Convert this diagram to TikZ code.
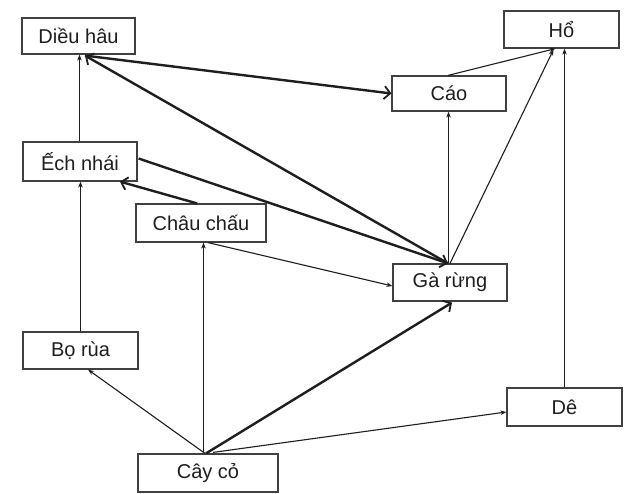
\documentclass[tikz,border=0pt]{standalone}
\usepackage{fontspec}
\setmainfont{Liberation Sans}
\usetikzlibrary{arrows.meta,calc}
\definecolor{ink}{HTML}{1E1E1E}
\begin{document}
\begin{tikzpicture}[x=1pt,y=1pt,
  box/.style={draw=ink!85,line width=1.2pt,rectangle,inner sep=0pt,font=\fontsize{20}{22}\selectfont,text=ink},
  thinarr/.style={draw=ink,line width=1.1pt,-{Stealth[length=6pt,width=4.5pt]}},
  thickarr/.style={draw=ink,line width=2.4pt,-{Straight Barb[length=6pt,width=13pt,line width=1.8pt]}}]
\useasboundingbox[fill=white] (0,0) rectangle (632,-494);
\node[box,minimum width=113pt,minimum height=36pt] (dh) at (78.5,-36) {Diều hâu};
\node[box,minimum width=114pt,minimum height=39pt] (ech) at (80,-161.5) {Ếch nhái};
\node[box,minimum width=130pt,minimum height=38pt] (chau) at (201,-223) {Châu chấu};
\node[box,minimum width=114pt,minimum height=35pt] (cao) at (449,-93.5) {Cáo};
\node[box,minimum width=115pt,minimum height=37pt] (ho) at (561.5,-29.5) {Hổ};
\node[box,minimum width=114pt,minimum height=37pt] (ga) at (450,-282.5) {Gà rừng};
\node[box,minimum width=115pt,minimum height=37pt] (bo) at (80.5,-350.5) {Bọ rùa};
\node[box,minimum width=115pt,minimum height=38pt] (de) at (564.5,-407) {Dê};
\node[box,minimum width=140pt,minimum height=38pt] (cay) at (208,-473) {Cây cỏ};
% thin arrows
\draw[thinarr] ([xshift=-0.5pt]ech.north) -- ([xshift=-0.5pt]ech.north |- dh.south);
\draw[thinarr] (bo.north) -- (bo.north |- ech.south);
\draw[thinarr] ([xshift=7pt]chau.south) -- ([yshift=-3.5pt]ga.west);
\draw[thinarr] ([xshift=-1.5pt]ga.north) -- ([xshift=-1.5pt]ga.north |- cao.south);
\draw[thinarr] ([xshift=0pt]ga.north) -- ([xshift=-8pt,yshift=-1pt]ho.south);
\draw[thinarr] ([xshift=-1pt]cao.north) -- ([xshift=-6pt]ho.south);
\draw[thinarr] (de.north) -- (de.north |- ho.south);
\draw[thinarr] ([xshift=-3pt]cay.north) -- ([xshift=7.5pt]bo.south);
\draw[thinarr] ([xshift=-4.5pt]cay.north) -- ([xshift=-4.5pt]cay.north |- chau.south);
\draw[thinarr] ([xshift=5pt,yshift=1pt]cay.north) -- ([yshift=-5pt]de.west);
% thick arrows
\draw[thickarr] ([xshift=-4pt]chau.north) -- ([xshift=40pt]ech.south);
\draw[thickarr] ([xshift=6.5pt,yshift=-1pt]dh.south) -- (cao.west);
\draw[thickarr] ([xshift=-2pt]ga.north) -- ([xshift=6.5pt,yshift=-1pt]dh.south);
\draw[thickarr] ([xshift=1pt,yshift=3pt]ech.east) -- ([xshift=-2pt]ga.north);
\draw[thickarr] ([xshift=-2pt]cay.north) -- ([xshift=2pt,yshift=-1pt]ga.south);
\end{tikzpicture}
\end{document}
